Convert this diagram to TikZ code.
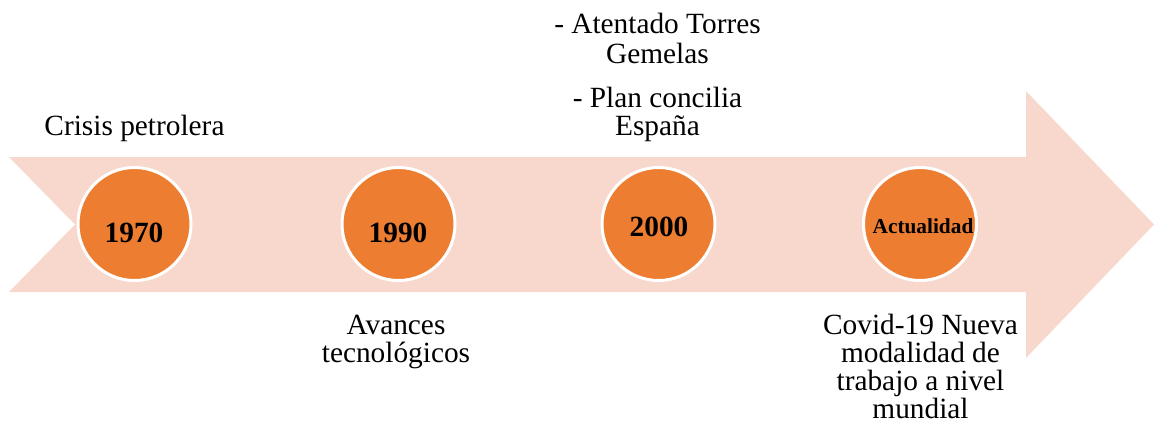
\documentclass[tikz,border=0pt]{standalone}
\usepackage{fontspec}
\setmainfont{Liberation Serif}
\definecolor{arrowfill}{HTML}{F8D8CD}
\definecolor{dotfill}{HTML}{ED7D31}
\newlength{\pxu}
\setlength{\pxu}{0.75pt}
\tikzset{
  yearcirc/.style={circle, fill=dotfill, draw=white, line width=2.25pt, minimum size=113\pxu, inner sep=0pt},
  yearlbl/.style={font=\bfseries\fontsize{22}{21}\selectfont, inner sep=0pt, anchor=base},
  smalllbl/.style={font=\bfseries\fontsize{16}{18}\selectfont, inner sep=0pt, anchor=base},
  evtext/.style={font=\fontsize{22}{21}\selectfont, align=center, inner sep=0pt, anchor=base}
}
\begin{document}
\begin{tikzpicture}[x=0.75pt,y=-0.75pt]
\useasboundingbox (0,0) rectangle (1154,429);
% big arrow
\fill[arrowfill] (9,157) -- (1026,157) -- (1026,91) -- (1154,224.5) -- (1026,358) -- (1026,292) -- (9,292) -- (75,224.5) -- cycle;
% circles
\node[yearcirc] (c1) at (134.5,224) {};
\node[yearcirc] (c2) at (398.5,224) {};
\node[yearcirc] (c3) at (658.5,224) {};
\node[yearcirc] (c4) at (920,224) {};
% labels in circles
\node[yearlbl] (l1) at (134,242) {1970};
\node[yearlbl] (l2) at (398,242) {1990};
\node[yearlbl] (l3) at (659,236) {2000};
\node[smalllbl] (l4) at (923,233) {Actualidad};
% event texts (base anchor = baseline of last line)
\node[evtext] (e1) at (134.5,135) {Crisis petrolera};
\node[evtext] (e2) at (396,362) {Avances\\tecnológicos};
\node[evtext] (e3a) at (657.5,63) {- Atentado Torres\\[1.5pt]Gemelas};
\node[evtext] (e3b) at (657.5,135) {- Plan concilia\\España};
\node[evtext] (e4) at (920.5,418) {Covid-19 Nueva\\modalidad de\\trabajo a nivel\\mundial};
\end{tikzpicture}
\end{document}
